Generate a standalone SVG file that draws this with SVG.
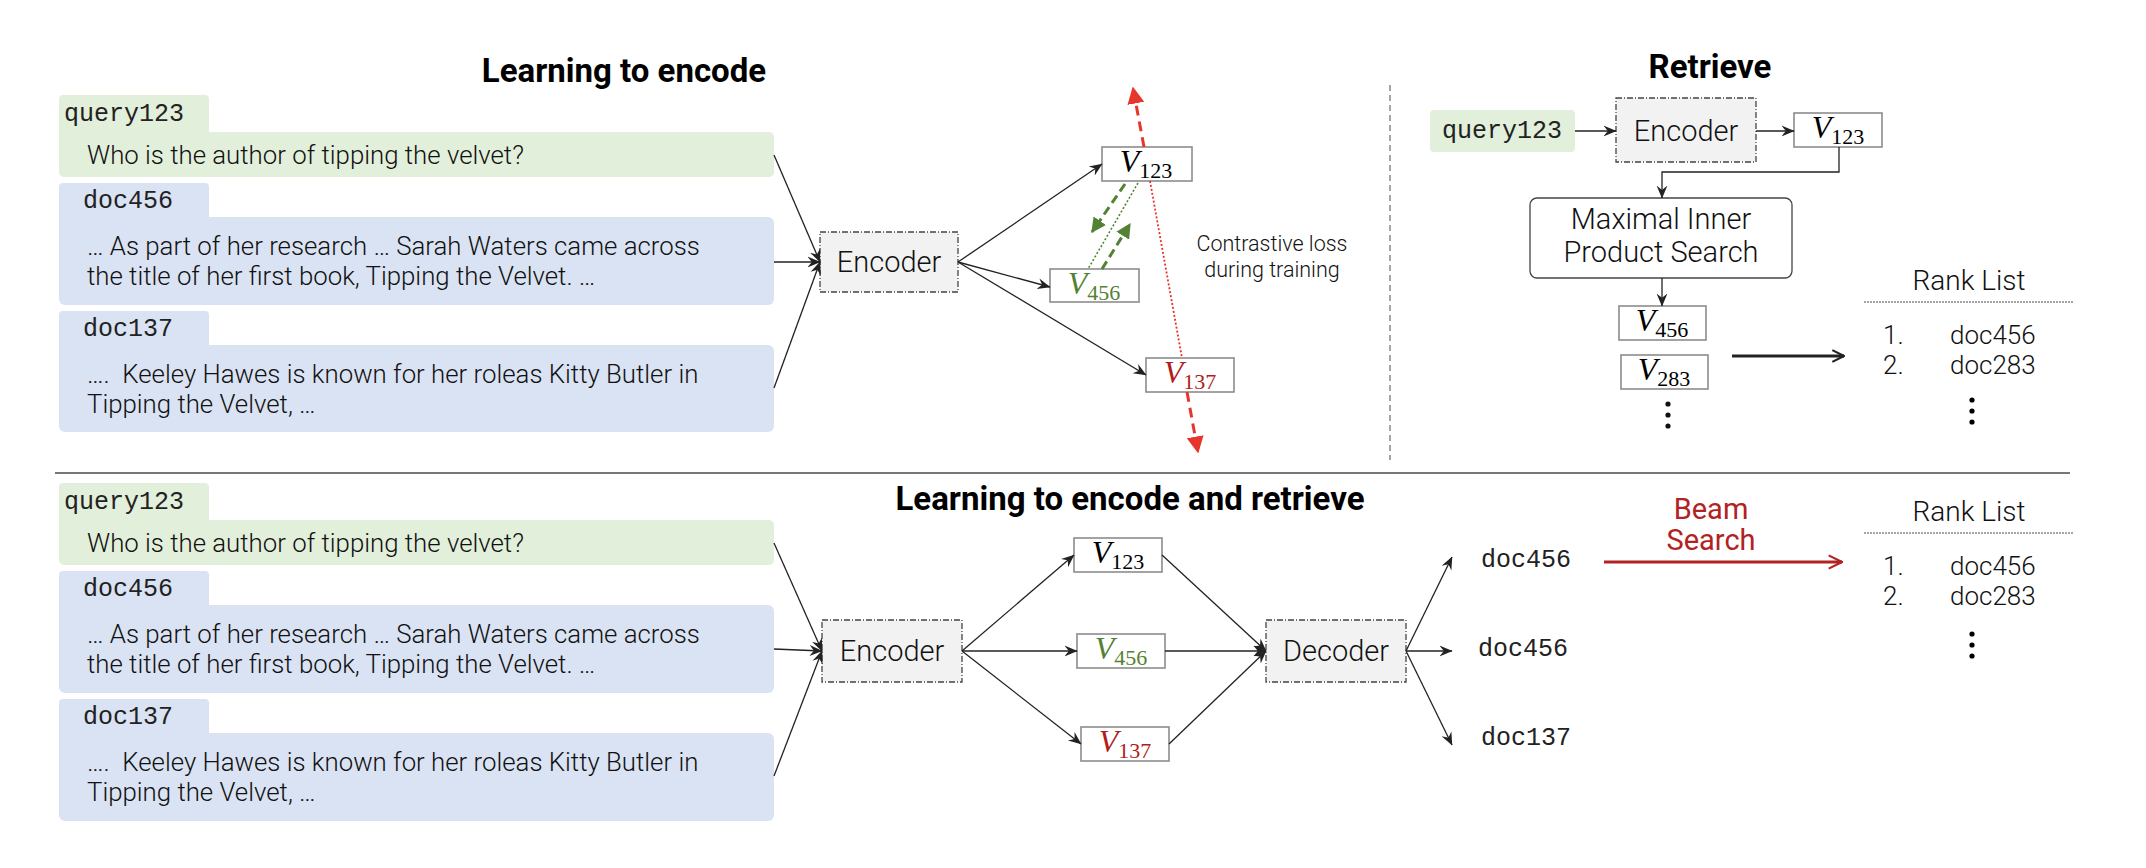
<svg xmlns="http://www.w3.org/2000/svg" width="2146" height="868" viewBox="0 0 2146 868">
<style>
.sans{font-family:Roboto,"Liberation Sans",sans-serif;fill:#111;font-weight:300}
.mono{font-family:"Liberation Mono","Courier New",monospace;fill:#222;font-size:25px}
.title{font-family:Roboto,"Liberation Sans",sans-serif;font-weight:700;font-size:33px;fill:#000}
.body{font-family:Roboto,"Liberation Sans",sans-serif;font-size:25.8px;font-weight:300;fill:#111;white-space:pre}
.q{fill:#e2efda}
.d{fill:#dae3f3}
.enc{fill:#f2f2f2;stroke:#444;stroke-width:1.3;stroke-dasharray:6 2 1 2}
.vbox{fill:#fff;stroke:#8c8c8c;stroke-width:1.6}
.vt{font-family:"Liberation Serif","Times New Roman",serif;font-size:32px}
.vi{font-style:italic}
.conn{fill:none;stroke:#222;stroke-width:1.3}
.green{fill:#548235}
.red{fill:#b01e1e}
</style>
<defs>
<marker id="ah" viewBox="0 0 12 12" refX="11.5" refY="6" markerWidth="13" markerHeight="13" markerUnits="userSpaceOnUse" orient="auto">
<path d="M0,1 L12,6 L0,11 L4,6 z" fill="#222"/>
</marker>
<marker id="ahr" viewBox="0 0 12 12" refX="11" refY="6" markerWidth="17" markerHeight="17" markerUnits="userSpaceOnUse" orient="auto">
<path d="M0,0 L12,6 L0,12 z" fill="#e8352b"/>
</marker>
<marker id="ahg" viewBox="0 0 12 12" refX="11" refY="6" markerWidth="15" markerHeight="15" markerUnits="userSpaceOnUse" orient="auto">
<path d="M0,0 L12,6 L0,12 z" fill="#548235"/>
</marker>
<marker id="ahbr" viewBox="0 0 12 12" refX="11" refY="6" markerWidth="16" markerHeight="16" markerUnits="userSpaceOnUse" orient="auto">
<path d="M1,1 L11,6 L1,11" fill="none" stroke="#b22222" stroke-width="1.6"/>
</marker>
<marker id="ahk" viewBox="0 0 12 12" refX="11" refY="6" markerWidth="14" markerHeight="14" markerUnits="userSpaceOnUse" orient="auto">
<path d="M1,1 L11,6 L1,11" fill="none" stroke="#222" stroke-width="1.8"/>
</marker>
</defs>
<rect width="2146" height="868" fill="#fff"/>

<!-- titles / separators -->
<text class="title" x="624" y="82" text-anchor="middle">Learning to encode</text>
<text class="title" x="1710" y="78" text-anchor="middle">Retrieve</text>
<text class="title" x="1130" y="510" text-anchor="middle">Learning to encode and retrieve</text>
<line x1="1390" y1="85" x2="1390" y2="460" stroke="#888" stroke-width="1.5" stroke-dasharray="6 4"/>
<line x1="55" y1="473" x2="2070" y2="473" stroke="#777" stroke-width="2"/>

<!-- TOP: input boxes -->
<g id="top-query">
<rect class="q" x="59" y="95" width="150" height="45" rx="4"/>
<rect class="q" x="59" y="132" width="715" height="45" rx="5"/>
<text class="mono" x="64" y="121">query123</text>
<text class="body" x="87" y="164">Who is the author of tipping the velvet?</text>
</g>
<g id="top-doc456">
<rect class="d" x="59" y="183" width="150" height="45" rx="4"/>
<rect class="d" x="59" y="217" width="715" height="88" rx="6"/>
<text class="mono" x="83" y="208">doc456</text>
<text class="body" x="87" y="255">… As part of her research … Sarah Waters came across</text>
<text class="body" x="87" y="285">the title of her first book, Tipping the Velvet. …</text>
</g>
<g id="top-doc137">
<rect class="d" x="59" y="311" width="150" height="45" rx="4"/>
<rect class="d" x="59" y="345" width="715" height="87" rx="6"/>
<text class="mono" x="83" y="336">doc137</text>
<text class="body" x="87" y="383">….  Keeley Hawes is known for her roleas Kitty Butler in</text>
<text class="body" x="87" y="413">Tipping the Velvet, …</text>
</g>
<g id="top-encoder">
<rect class="enc" x="820" y="232" width="138" height="60"/>
<text class="sans" x="889" y="272" text-anchor="middle" font-size="29">Encoder</text>
</g>
<g id="top-v123">
<rect class="vbox" x="1102" y="147" width="90" height="34"/>
<text class="vt" x="1146" y="172" text-anchor="middle" fill="#000"><tspan class="vi">V</tspan><tspan font-size="22" dy="6">123</tspan></text>
</g>
<g id="top-v456">
<rect class="vbox" x="1050" y="269" width="89" height="33"/>
<text class="vt green" x="1094" y="294" text-anchor="middle"><tspan class="vi">V</tspan><tspan font-size="22" dy="6">456</tspan></text>
</g>
<g id="top-v137">
<rect class="vbox" x="1146" y="358" width="88" height="34"/>
<text class="vt red" x="1190" y="383" text-anchor="middle"><tspan class="vi">V</tspan><tspan font-size="22" dy="6">137</tspan></text>
</g>
<text class="sans" x="1272" y="251" text-anchor="middle" font-size="21.5">Contrastive loss</text>
<text class="sans" x="1272" y="277" text-anchor="middle" font-size="21.5">during training</text>

<!-- RETRIEVE -->
<g id="ret-query">
<rect class="q" x="1430" y="110" width="145" height="42" rx="4"/>
<text class="mono" x="1502" y="138" text-anchor="middle">query123</text>
</g>
<g id="ret-encoder">
<rect class="enc" x="1616" y="98" width="140" height="64"/>
<text class="sans" x="1686" y="141" text-anchor="middle" font-size="29">Encoder</text>
</g>
<g id="ret-v123">
<rect class="vbox" x="1794" y="113" width="88" height="34"/>
<text class="vt" x="1838" y="138" text-anchor="middle" fill="#000"><tspan class="vi">V</tspan><tspan font-size="22" dy="6">123</tspan></text>
</g>
<g id="ret-mips">
<rect x="1530" y="198" width="262" height="80" rx="7" fill="#fff" stroke="#444" stroke-width="1.3"/>
<text class="sans" x="1661" y="229" text-anchor="middle" font-size="29">Maximal Inner</text>
<text class="sans" x="1661" y="262" text-anchor="middle" font-size="29">Product Search</text>
</g>
<g id="ret-v456">
<rect class="vbox" x="1619" y="306" width="87" height="34"/>
<text class="vt" x="1662" y="331" text-anchor="middle" fill="#000"><tspan class="vi">V</tspan><tspan font-size="22" dy="6">456</tspan></text>
</g>
<g id="ret-v283">
<rect class="vbox" x="1621" y="355" width="87" height="34"/>
<text class="vt" x="1664" y="380" text-anchor="middle" fill="#000"><tspan class="vi">V</tspan><tspan font-size="22" dy="6">283</tspan></text>
</g>
<g id="ret-vdots" fill="#111">
<circle cx="1668" cy="404" r="2.6"/><circle cx="1668" cy="415" r="2.6"/><circle cx="1668" cy="426" r="2.6"/>
</g>
<g id="ret-ranklist">
<text class="sans" x="1969" y="290" text-anchor="middle" font-size="28">Rank List</text>
<line x1="1864" y1="302" x2="2074" y2="302" stroke="#888" stroke-width="1.5" stroke-dasharray="2 1"/>
<text class="sans" x="1883" y="344" font-size="26">1.</text>
<text class="sans" x="1950" y="344" font-size="26">doc456</text>
<text class="sans" x="1883" y="374" font-size="26">2.</text>
<text class="sans" x="1950" y="374" font-size="26">doc283</text>
<circle cx="1972" cy="400" r="2.6"/><circle cx="1972" cy="411" r="2.6"/><circle cx="1972" cy="422" r="2.6"/>
</g>

<!-- BOTTOM: input boxes -->
<g id="bot-query">
<rect class="q" x="59" y="483" width="150" height="45" rx="4"/>
<rect class="q" x="59" y="520" width="715" height="45" rx="5"/>
<text class="mono" x="64" y="509">query123</text>
<text class="body" x="87" y="552">Who is the author of tipping the velvet?</text>
</g>
<g id="bot-doc456">
<rect class="d" x="59" y="571" width="150" height="45" rx="4"/>
<rect class="d" x="59" y="605" width="715" height="88" rx="6"/>
<text class="mono" x="83" y="596">doc456</text>
<text class="body" x="87" y="643">… As part of her research … Sarah Waters came across</text>
<text class="body" x="87" y="673">the title of her first book, Tipping the Velvet. …</text>
</g>
<g id="bot-doc137">
<rect class="d" x="59" y="699" width="150" height="45" rx="4"/>
<rect class="d" x="59" y="733" width="715" height="88" rx="6"/>
<text class="mono" x="83" y="724">doc137</text>
<text class="body" x="87" y="771">….  Keeley Hawes is known for her roleas Kitty Butler in</text>
<text class="body" x="87" y="801">Tipping the Velvet, …</text>
</g>
<g id="bot-encoder">
<rect class="enc" x="822" y="620" width="140" height="62"/>
<text class="sans" x="892" y="661" text-anchor="middle" font-size="29">Encoder</text>
</g>
<g id="bot-v123">
<rect class="vbox" x="1074" y="538" width="88" height="34"/>
<text class="vt" x="1118" y="563" text-anchor="middle" fill="#000"><tspan class="vi">V</tspan><tspan font-size="22" dy="6">123</tspan></text>
</g>
<g id="bot-v456">
<rect class="vbox" x="1077" y="634" width="88" height="34"/>
<text class="vt green" x="1121" y="659" text-anchor="middle"><tspan class="vi">V</tspan><tspan font-size="22" dy="6">456</tspan></text>
</g>
<g id="bot-v137">
<rect class="vbox" x="1081" y="727" width="88" height="34"/>
<text class="vt red" x="1125" y="752" text-anchor="middle"><tspan class="vi">V</tspan><tspan font-size="22" dy="6">137</tspan></text>
</g>
<g id="bot-decoder">
<rect class="enc" x="1266" y="620" width="140" height="62"/>
<text class="sans" x="1336" y="661" text-anchor="middle" font-size="29">Decoder</text>
</g>
<g id="bot-docs">
<text class="mono" x="1481" y="567">doc456</text>
<text class="mono" x="1478" y="656">doc456</text>
<text class="mono" x="1481" y="745">doc137</text>
</g>
<g id="bot-beam">
<text class="sans" x="1711" y="519" text-anchor="middle" font-size="29" style="fill:#b22222;font-weight:400">Beam</text>
<text class="sans" x="1711" y="550" text-anchor="middle" font-size="29" style="fill:#b22222;font-weight:400">Search</text>
</g>
<g id="bot-ranklist">
<text class="sans" x="1969" y="521" text-anchor="middle" font-size="28">Rank List</text>
<line x1="1864" y1="533" x2="2074" y2="533" stroke="#888" stroke-width="1.5" stroke-dasharray="2 1"/>
<text class="sans" x="1883" y="575" font-size="26">1.</text>
<text class="sans" x="1950" y="575" font-size="26">doc456</text>
<text class="sans" x="1883" y="605" font-size="26">2.</text>
<text class="sans" x="1950" y="605" font-size="26">doc283</text>
<circle cx="1972" cy="634" r="2.6"/><circle cx="1972" cy="645" r="2.6"/><circle cx="1972" cy="656" r="2.6"/>
</g>

<!-- connectors -->
<g id="connectors">
<g class="conn" marker-end="url(#ah)">
<line x1="774" y1="155" x2="820" y2="262"/>
<line x1="774" y1="262" x2="820" y2="262"/>
<line x1="774" y1="388" x2="820" y2="262"/>
<line x1="958" y1="262" x2="1102" y2="164"/>
<line x1="958" y1="262" x2="1050" y2="287"/>
<line x1="958" y1="262" x2="1146" y2="375"/>
<line x1="1575" y1="131" x2="1616" y2="131"/>
<line x1="1756" y1="131" x2="1794" y2="131"/>
<polyline points="1839,147 1839,172 1662,172 1662,198"/>
<line x1="1662" y1="278" x2="1662" y2="306"/>
<line x1="774" y1="543" x2="822" y2="651"/>
<line x1="774" y1="649" x2="822" y2="651"/>
<line x1="774" y1="776" x2="822" y2="651"/>
<line x1="962" y1="651" x2="1074" y2="555"/>
<line x1="962" y1="651" x2="1077" y2="651"/>
<line x1="962" y1="651" x2="1081" y2="744"/>
<line x1="1162" y1="555" x2="1266" y2="651"/>
<line x1="1165" y1="651" x2="1266" y2="651"/>
<line x1="1169" y1="744" x2="1266" y2="651"/>
<line x1="1406" y1="651" x2="1452" y2="557"/>
<line x1="1406" y1="651" x2="1452" y2="651"/>
<line x1="1406" y1="651" x2="1452" y2="745"/>
</g>
<line x1="1732" y1="356" x2="1844" y2="356" stroke="#222" stroke-width="3" marker-end="url(#ahk)"/>
<line x1="1604" y1="562" x2="1842" y2="562" stroke="#b22222" stroke-width="3" marker-end="url(#ahbr)"/>
<line x1="1144" y1="147" x2="1133" y2="88" stroke="#e8352b" stroke-width="3" stroke-dasharray="10 6" marker-end="url(#ahr)"/>
<line x1="1150" y1="181" x2="1182" y2="358" stroke="#e8352b" stroke-width="1.8" stroke-dasharray="2 2"/>
<line x1="1187" y1="392" x2="1198" y2="452" stroke="#e8352b" stroke-width="3" stroke-dasharray="10 6" marker-end="url(#ahr)"/>
<line x1="1125" y1="184" x2="1092" y2="232" stroke="#548235" stroke-width="3" stroke-dasharray="9 5" marker-end="url(#ahg)"/>
<line x1="1138" y1="183" x2="1088" y2="269" stroke="#548235" stroke-width="1.6" stroke-dasharray="2 2"/>
<line x1="1102" y1="269" x2="1130" y2="224" stroke="#548235" stroke-width="3" stroke-dasharray="9 5" marker-end="url(#ahg)"/>
</g>
</svg>
